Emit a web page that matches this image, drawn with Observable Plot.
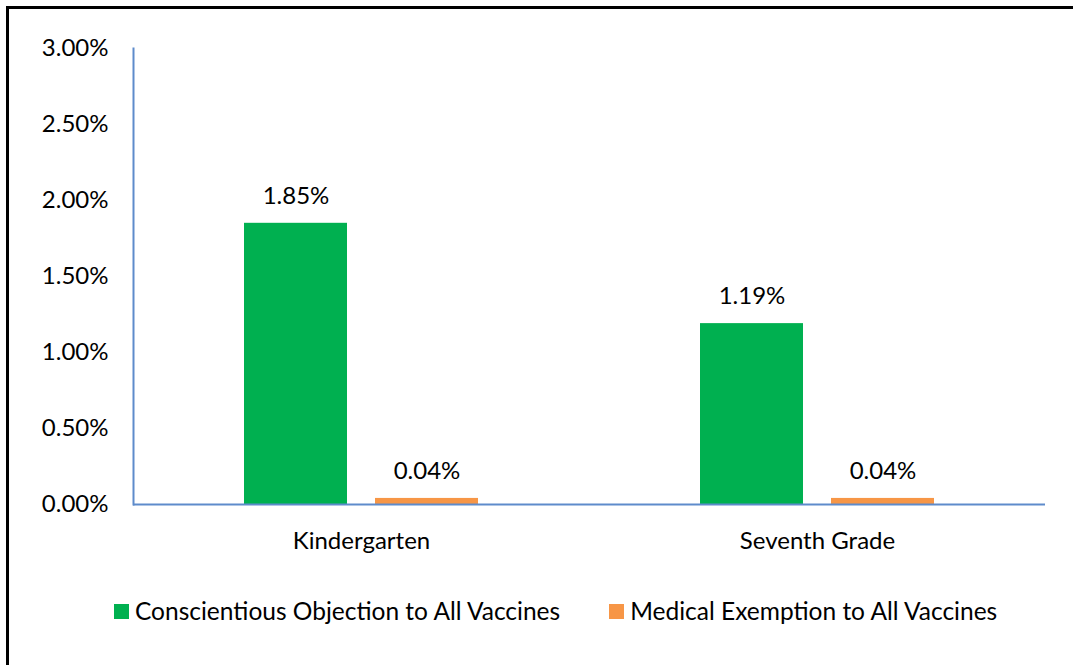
<!DOCTYPE html>
<html><head><meta charset="utf-8">
<script src="https://cdn.jsdelivr.net/npm/d3@7"></script>
<script src="https://cdn.jsdelivr.net/npm/@observablehq/plot@0.6"></script>
<style>
html,body{margin:0;padding:0;background:#fff;overflow:hidden;width:1073px;height:665px}
body{font-family:Lato,"Open Sans",sans-serif;color:#000}
#border{position:absolute;left:6px;top:6px;width:1120px;height:720px;border:3px solid #000;box-sizing:border-box}
#chart{position:absolute;left:0;top:0}
#legend{position:absolute;left:114px;top:596px;display:flex;gap:49px;font-size:24.5px;line-height:30px}
.item{display:flex;align-items:center}
.sw{width:15px;height:15px;margin-right:6px}
</style>
</head><body>
<div id="border"></div>
<div id="chart"></div>
<div id="legend"></div>
<script>
const groups = ["Kindergarten", "Seventh Grade"];
const series = ["Conscientious Objection to All Vaccines", "Medical Exemption to All Vaccines"];
const conscientious = [1.85, 1.19];
const medical = [0.04, 0.04];
const yTicks = [0, 0.5, 1, 1.5, 2, 2.5, 3];
const colors = ["#00B050", "#F79646"];
const axisColor = "#5E8BCB";

const data = groups.flatMap((g, i) => [
  {group: g, series: series[0], value: conscientious[i]},
  {group: g, series: series[1], value: medical[i]}
]);
const fmt = d => d.toFixed(2) + "%";

const chart = Plot.plot({
  width: 1073,
  height: 560,
  marginLeft: 133,
  marginRight: 28,
  marginTop: 48,
  marginBottom: 56,
  style: {fontFamily: "Lato, 'Open Sans', sans-serif", color: "#000", background: "transparent"},
  fx: {domain: groups, padding: 0, label: null},
  x: {domain: series, paddingInner: 0.2137, paddingOuter: 0.847, axis: null},
  y: {domain: [0, 3], axis: null},
  color: {domain: series, range: colors},
  marks: [
    Plot.axisY({ticks: yTicks, tickSize: 0, tickPadding: 25, tickFormat: fmt, fontSize: 24, label: null}),
    Plot.axisFx({anchor: "bottom", tickSize: 0, tickPadding: 27, fontSize: 24, label: null}),
    Plot.barY(data, {fx: "group", x: "series", y: "value", fill: "series"}),
    Plot.text(data, {fx: "group", x: "series", y: "value", text: d => fmt(d.value), dy: -27, fontSize: 24, lineAnchor: "middle", fill: "#000"}),
    Plot.ruleY([0], {stroke: axisColor, strokeWidth: 2}),
    Plot.frame({anchor: "left", facetAnchor: "left", stroke: axisColor, strokeWidth: 2})
  ]
});
document.getElementById("chart").appendChild(chart);

const legend = document.getElementById("legend");
series.forEach((s, i) => {
  const item = document.createElement("div");
  item.className = "item";
  const sw = document.createElement("span");
  sw.className = "sw";
  sw.style.background = colors[i];
  const t = document.createElement("span");
  t.textContent = s;
  item.appendChild(sw);
  item.appendChild(t);
  legend.appendChild(item);
});
</script>
</body></html>
